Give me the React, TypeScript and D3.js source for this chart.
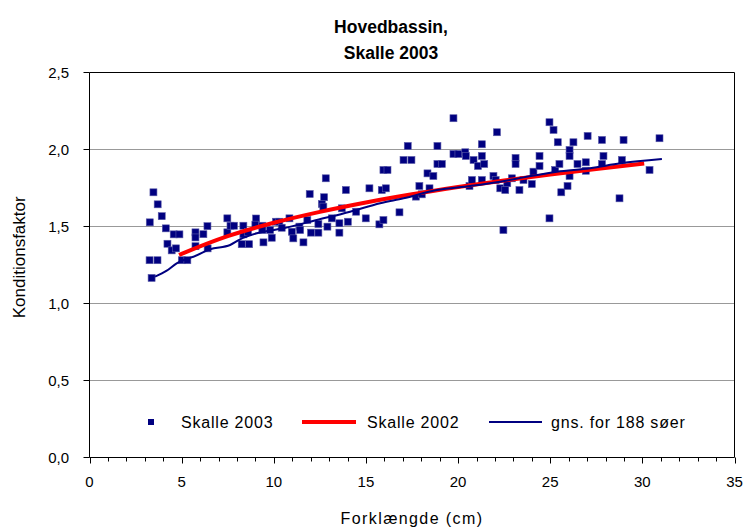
import React from "react";
import * as d3 from "d3";

const title1 = "Hovedbassin,";
const title2 = "Skalle 2003";
const xLabel = "Forklængde (cm)";
const yLabel = "Konditionsfaktor";
const seriesNames = ["Skalle 2003", "Skalle 2002", "gns. for 188 søer"];
const xTicks = [0, 5, 10, 15, 20, 25, 30, 35];
const yTicks = [0, 0.5, 1.0, 1.5, 2.0, 2.5];

// Skalle 2003 scatter: [length cm, condition factor]
const skalle2003: [number, number][] = [
  [3.27, 1.527], [3.47, 1.722], [3.70, 1.644], [3.92, 1.567], [4.14, 1.488],
  [4.23, 1.388], [4.46, 1.345], [4.69, 1.358], [4.57, 1.449], [4.88, 1.449],
  [3.26, 1.281], [3.69, 1.281], [3.37, 1.166], [5.01, 1.281], [5.31, 1.281],
  [5.75, 1.462], [5.75, 1.429], [6.18, 1.450], [6.40, 1.502], [5.75, 1.372],
  [6.41, 1.358], [7.48, 1.553], [7.48, 1.462], [7.65, 1.505], [7.84, 1.505],
  [8.35, 1.505], [8.35, 1.449], [8.60, 1.464], [8.26, 1.385], [8.66, 1.385],
  [9.04, 1.552], [9.00, 1.512], [9.38, 1.505], [9.38, 1.477], [9.44, 1.397],
  [9.80, 1.477], [9.89, 1.427], [10.12, 1.531], [10.30, 1.531], [10.43, 1.492],
  [10.85, 1.553], [10.98, 1.466], [11.06, 1.423], [11.39, 1.499], [11.43, 1.477],
  [11.61, 1.397], [11.82, 1.542], [11.95, 1.711], [12.02, 1.460], [12.42, 1.460],
  [12.42, 1.516], [12.61, 1.646], [12.73, 1.690], [12.69, 1.629], [12.82, 1.813],
  [12.91, 1.499], [13.15, 1.553], [13.56, 1.521], [13.56, 1.460], [13.69, 1.618],
  [13.91, 1.737], [14.02, 1.531], [14.47, 1.596], [14.99, 1.553], [15.19, 1.748],
  [15.73, 1.514], [15.95, 1.542], [15.86, 1.737], [16.08, 1.748], [15.95, 1.867],
  [16.17, 1.867], [16.82, 1.592], [17.04, 1.932], [17.27, 2.023], [17.47, 1.932],
  [17.71, 1.694], [17.90, 1.763], [18.03, 1.709], [18.34, 1.845], [18.45, 1.748],
  [18.66, 1.828], [18.88, 2.023], [18.88, 1.906], [19.12, 1.906], [19.75, 2.203],
  [19.75, 1.971], [20.02, 1.971], [20.39, 1.982], [20.42, 1.958], [20.62, 1.763],
  [20.75, 1.802], [20.84, 1.932], [21.08, 1.893], [21.29, 2.034], [21.29, 1.958],
  [21.42, 1.906], [21.29, 1.802], [21.92, 1.828], [22.11, 2.112], [22.29, 1.748],
  [22.04, 1.802], [22.56, 1.737], [22.67, 1.781], [22.92, 1.813], [23.12, 1.945],
  [23.12, 1.906], [23.33, 1.737], [23.55, 1.802], [24.00, 1.776], [24.09, 1.856],
  [24.42, 1.958], [24.42, 1.893], [24.96, 2.177], [25.18, 2.127], [24.96, 1.553],
  [22.46, 1.477], [25.27, 1.867], [25.41, 2.047], [25.50, 1.906], [25.60, 1.722],
  [25.94, 1.763], [26.05, 1.828], [26.05, 1.997], [26.05, 1.958], [26.26, 2.047],
  [26.48, 1.906], [26.93, 1.917], [26.93, 1.862], [27.03, 2.088], [27.81, 2.062],
  [27.81, 1.906], [27.89, 1.958], [28.98, 2.062], [28.89, 1.932], [28.76, 1.683],
  [30.39, 1.867], [30.93, 2.073],
];

// Skalle 2002 curve
const skalle2002: [number, number][] = [
  [4.86, 1.315], [5, 1.322], [7.5, 1.437], [10, 1.524], [12.5, 1.595],
  [15, 1.656], [17.5, 1.709], [20, 1.756], [22.5, 1.799], [25, 1.838],
  [27.5, 1.874], [30.1, 1.909],
];

// average for 188 lakes
const gns188: [number, number][] = [
  [3.56, 1.174], [4.19, 1.213], [4.73, 1.261], [5.36, 1.294], [5.64, 1.304],
  [6.54, 1.352], [7.63, 1.380], [8.17, 1.417], [9.08, 1.456], [10.52, 1.488],
  [12.33, 1.542], [14.14, 1.596], [15.77, 1.651], [17.04, 1.683], [18.85, 1.737],
  [20.66, 1.763], [22.29, 1.791], [23.55, 1.819], [25.36, 1.856], [27.17, 1.878],
  [28.80, 1.910], [31.06, 1.938],
];

const W = 747;
const H = 527;
const FONT = "'Liberation Sans', Arial, sans-serif";
const NAVY = "#000080";

export default function App() {
  const x = d3.scaleLinear().domain([0, 35]).range([89.5, 734.5]);
  const y = d3.scaleLinear().domain([0, 2.5]).range([457.5, 72.5]);
  const fmt = (v: number) => d3.format(".1f")(v).replace(".", ",");
  const line = d3
    .line<[number, number]>()
    .x((d) => x(d[0]))
    .y((d) => y(d[1]))
    .curve(d3.curveMonotoneX);
  const minorTicks = d3.range(0, 36, 1);
  const ms = 7;

  return (
    <svg
      width={W}
      height={H}
      style={{ position: "absolute", left: 0, top: 0, background: "#fff" }}
      fontFamily={FONT}
    >
      <rect x={0} y={0} width={W} height={H} fill="#fff" />
      {/* title */}
      <text x={391} y={33} textAnchor="middle" fontSize={17.5} fontWeight="bold">
        {title1}
      </text>
      <text x={391} y={59} textAnchor="middle" fontSize={17.5} fontWeight="bold">
        {title2}
      </text>

      {/* gridlines */}
      {yTicks.slice(1, -1).map((t) => (
        <line key={t} x1={x(0)} x2={x(35)} y1={y(t)} y2={y(t)} stroke="#999" strokeWidth={1} />
      ))}
      {/* plot border */}
      <line x1={x(0)} x2={x(35)} y1={y(2.5)} y2={y(2.5)} stroke="#000" strokeWidth={1} />
      <line x1={x(35)} x2={x(35)} y1={y(2.5)} y2={y(0)} stroke="#000" strokeWidth={1} />
      <line x1={x(0)} x2={x(0)} y1={y(2.5)} y2={y(0)} stroke="#000" strokeWidth={1} />
      <line x1={x(0)} x2={x(35)} y1={y(0)} y2={y(0)} stroke="#000" strokeWidth={1} />

      {/* y ticks */}
      {yTicks.map((t) => (
        <g key={t}>
          <line x1={x(0) - 6} x2={x(0)} y1={y(t)} y2={y(t)} stroke="#000" />
          <text x={69} y={y(t) + 5} textAnchor="end" fontSize={15}>
            {fmt(t)}
          </text>
        </g>
      ))}
      {/* x ticks */}
      {minorTicks.map((t) => (
        <line
          key={"m" + t}
          x1={Math.round(x(t)) + 0.5}
          x2={Math.round(x(t)) + 0.5}
          y1={y(0)}
          y2={y(0) + (t % 5 === 0 ? 6 : 4)}
          stroke="#000"
        />
      ))}
      {xTicks.map((t) => (
        <text key={t} x={x(t)} y={487} textAnchor="middle" fontSize={15}>
          {t}
        </text>
      ))}

      {/* axis labels */}
      <text x={412} y={524} textAnchor="middle" fontSize={16} letterSpacing={1.4}>
        {xLabel}
      </text>
      <text
        transform={`translate(25,${y(1.3)}) rotate(-90)`}
        textAnchor="middle"
        fontSize={17}
      >
        {yLabel}
      </text>

      {/* scatter */}
      {skalle2003.map((d, i) => (
        <rect
          key={i}
          x={x(d[0]) - ms / 2}
          y={y(d[1]) - ms / 2}
          width={ms}
          height={ms}
          fill={NAVY}
          stroke="#5a5aa8"
          strokeWidth={0.6}
        />
      ))}
      {/* lines */}
      <path d={line(skalle2002) || ""} fill="none" stroke="#ff0000" strokeWidth={4} />
      <path d={line(gns188) || ""} fill="none" stroke={NAVY} strokeWidth={2} />

      {/* legend */}
      <rect x={148} y={419} width={6} height={6} fill={NAVY} />
      <text x={181} y={428} fontSize={16} letterSpacing={0.8}>
        {seriesNames[0]}
      </text>
      <line x1={302} x2={356} y1={422} y2={422} stroke="#ff0000" strokeWidth={4} />
      <text x={367} y={428} fontSize={16} letterSpacing={0.8}>
        {seriesNames[1]}
      </text>
      <line x1={489} x2={542} y1={422} y2={422} stroke={NAVY} strokeWidth={2} />
      <text x={551} y={428} fontSize={16} letterSpacing={0.8}>
        {seriesNames[2]}
      </text>
    </svg>
  );
}
